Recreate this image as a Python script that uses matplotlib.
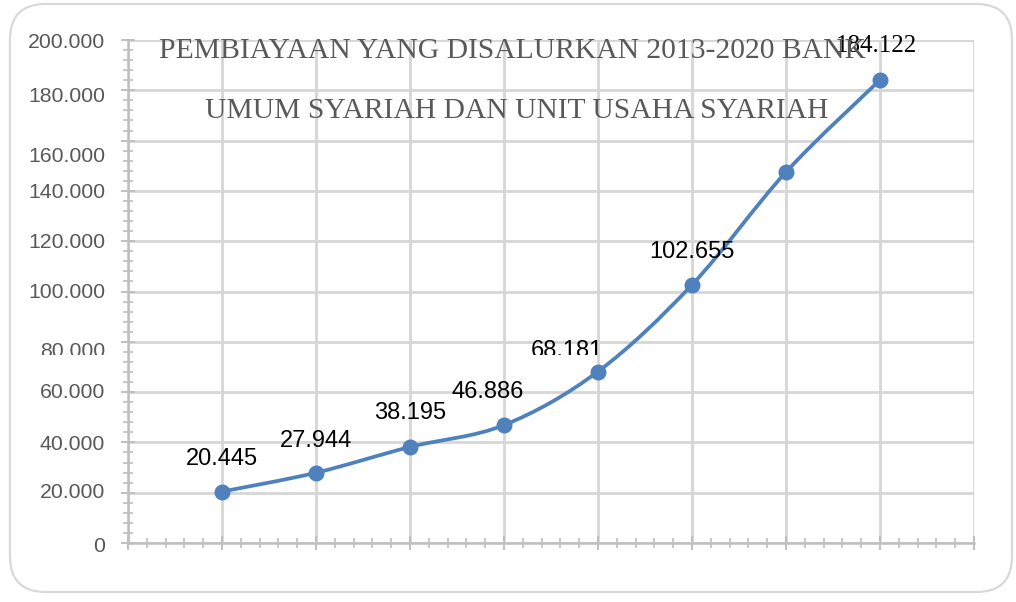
import numpy as np
import matplotlib
matplotlib.use("Agg")
import matplotlib.pyplot as plt
from matplotlib.path import Path
from matplotlib.patches import PathPatch, FancyBboxPatch
from matplotlib.ticker import MultipleLocator, AutoMinorLocator
from matplotlib.transforms import Bbox, blended_transform_factory, offset_copy

# data pembiayaan (miliar rupiah)
tahun = [2013, 2014, 2015, 2016, 2017, 2018, 2019, 2020]
pembiayaan = [20445, 27944, 38195, 46886, 68181, 102655, 147500, 184122]
label_data = ["20.445", "27.944", "38.195", "46.886", "68.181", "102.655", "", "184.122"]
yticks = [0, 20000, 40000, 60000, 80000, 100000, 120000, 140000, 160000, 180000, 200000]
ytick_labels = ["0", "20.000", "40.000", "60.000", "80.000", "100.000",
                "120.000", "140.000", "160.000", "180.000", "200.000"]

biru = "#4f81bd"
abu = "#595959"
grid_c = "#d6d6d6"
axis_c = "#bfbfbf"

fig = plt.figure(figsize=(10.16, 6.02), dpi=100)
fig.patch.set_facecolor("white")

# bingkai luar
frame = FancyBboxPatch((10 / 1016, 10 / 602), 1002 / 1016, 588 / 602,
                       boxstyle="round,pad=0,rounding_size=0.035",
                       transform=fig.transFigure, facecolor="none",
                       edgecolor="#d9d9d9", linewidth=1.6, mutation_aspect=1016 / 602,
                       zorder=-1)
fig.patches.append(frame)

ax = fig.add_axes([128 / 1016, 59 / 602, 846 / 1016, 503 / 602])
ax.set_facecolor("none")
x = np.arange(1, len(tahun) + 1)
ax.set_xlim(0, len(tahun) + 1)
ax.set_ylim(0, 200000)

ax.xaxis.set_major_locator(MultipleLocator(1))
ax.xaxis.set_minor_locator(AutoMinorLocator(5))
ax.set_yticks(yticks)
ax.yaxis.set_minor_locator(AutoMinorLocator(5))
ax.grid(True, which="major", color=grid_c, linewidth=2.0, zorder=0)
ax.set_axisbelow(True)
for s in ["top", "right"]:
    ax.spines[s].set_visible(False)
for s in ["left", "bottom"]:
    ax.spines[s].set_color(axis_c)
    ax.spines[s].set_linewidth(1.8)
ax.tick_params(which="major", direction="inout", length=10, width=1.4, color=axis_c,
               labelbottom=False, labelleft=False)
ax.tick_params(which="minor", direction="inout", length=7, width=1.2, color=axis_c)

# garis potong teks (bagian gambar asli yang terpotong)
potong = Bbox([[0, 247], [1016, 700]])

# label sumbu y (digeser sedikit seperti gambar asli)
geser_y = [-4, 0, -2, 0, -10, -1, -1, -2, -16, -6, -2]
btrans = blended_transform_factory(ax.transAxes, ax.transData)
for v, t, dy in zip(yticks, ytick_labels, geser_y):
    tt = ax.text(-0.027, v, t, transform=offset_copy(btrans, fig=fig, x=0, y=dy, units="dots"),
                 ha="right", va="center", fontsize=15.3, color=abu,
                 family="Liberation Sans", clip_on=False)
    if t == "80.000":
        tt.set_clip_on(True)
        tt.set_clip_box(potong)

# garis halus (bezier ala Excel)
pts = np.column_stack([x, pembiayaan]).astype(float)
verts = [pts[0]]
codes = [Path.MOVETO]
n = len(pts)
for i in range(n - 1):
    p0 = pts[max(i - 1, 0)]
    p1 = pts[i]
    p2 = pts[i + 1]
    p3 = pts[min(i + 2, n - 1)]
    c1 = p1 + (p2 - p0) / 6
    c2 = p2 - (p3 - p1) / 6
    verts += [c1, c2, p2]
    codes += [Path.CURVE4] * 3
ax.add_patch(PathPatch(Path(verts, codes), facecolor="none", edgecolor=biru,
                       linewidth=2.7, zorder=3, capstyle="round"))
ax.plot(x, pembiayaan, linestyle="none", marker="o", markersize=10.5,
        color=biru, zorder=4, clip_on=False)

# label data
geser_lbl = [(0, 33), (0, 32), (0, 34), (-16, 33), (-31, 21), (0, 33), (0, 33), (-4, 34)]
for xi, v, t, (dx, dy) in zip(x, pembiayaan, label_data, geser_lbl):
    if not t:
        continue
    fam = "Liberation Serif" if t == "184.122" else "Liberation Sans"
    fs = 18 if t == "184.122" else 17
    tr = offset_copy(ax.transData, fig=fig, x=dx, y=dy, units="dots")
    lbl = ax.text(xi, v, t, transform=tr, ha="center", va="center", fontsize=fs,
                  family=fam, color="black", zorder=5, clip_on=False)
    if t == "68.181":
        lbl.set_clip_on(True)
        lbl.set_clip_box(potong)

# judul
fig.text(512 / 1016, 1 - 58 / 602, "PEMBIAYAAN YANG DISALURKAN 2013-2020 BANK",
         ha="center", va="baseline", fontsize=21.3, family="Liberation Serif", color=abu)
fig.text(517 / 1016, 1 - 118 / 602, "UMUM SYARIAH DAN UNIT USAHA SYARIAH",
         ha="center", va="baseline", fontsize=21.3, family="Liberation Serif", color=abu)

fig.savefig("out.png", dpi=100)
